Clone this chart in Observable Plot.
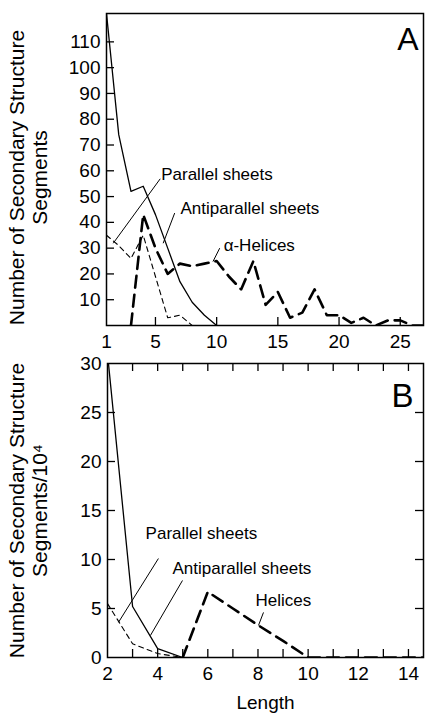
<!DOCTYPE html>
<html><head><meta charset="utf-8">
<script src="https://cdn.jsdelivr.net/npm/d3@7"></script>
<script src="https://cdn.jsdelivr.net/npm/@observablehq/plot@0.6"></script>
<style>body{margin:0;background:#fff;} svg{display:block;overflow:visible;}</style>
</head><body><div id="chart"></div>
<script>
// ---------- Panel A data (counts vs length) ----------
const antiLenA = [1, 2, 3, 4, 5, 6, 7, 8, 9, 10];
const antiA    = [121, 74, 52, 54, 43, 30, 17, 9, 4, 0];
const parLenA  = [1, 2, 3, 4, 5, 6, 7, 8];
const parA     = [35, 31, 26, 35, 19, 3, 4, 0];
const helLenA  = [3, 4, 5, 6, 7, 8, 9, 10, 11, 12, 13, 14, 15, 16, 17, 18, 19, 20, 21, 22, 23, 24, 25, 26, 27];
const helA     = [0, 43, 30, 20, 24, 23, 24, 25, 19, 14, 25, 8, 13, 3, 5, 14, 4, 4, 1, 3, 0, 2, 2, 0, 0];
const xTicksA  = [1, 5, 10, 15, 20, 25];
const yTicksA  = [10, 20, 30, 40, 50, 60, 70, 80, 90, 100, 110];

// ---------- Panel B data (segments / 10^4 vs length) ----------
const antiLenB = [2, 3, 4, 5];
const antiB    = [31, 5.2, 0.9, 0];
const parLenB  = [2, 3, 4, 5];
const parB     = [5.5, 1.4, 0.4, 0];
const helLenB  = [5, 6, 7, 8, 9, 10, 11, 12, 13, 14, 15];
const helB     = [0, 6.7, 5.0, 3.3, 1.7, 0, 0, 0, 0, 0, 0];
const xTicksB  = [2, 3, 4, 5, 6, 7, 8, 9, 10, 11, 12, 13, 14];
const yTicksB  = [0, 5, 10, 15, 20, 25, 30];
const yTicksBInner = [5, 10, 15, 20, 25];

// ---------- Text ----------
const yTitleA = "Number of Secondary Structure\nSegments";
const yTitleB = "Number of Secondary Structure\nSegments/10⁴";
const xTitle = "Length";
// annotation labels: text anchor point and leader line (data units)
const labelsA = [
  {text: "Parallel sheets", x: 5.47, y: 58.4, x1: 5.39, y1: 56.9, x2: 1.55, y2: 31.9},
  {text: "Antiparallel sheets", x: 7.04, y: 45.5, x1: 6.57, y1: 43.6, x2: 5.63, y2: 31.9},
  {text: "α-Helices", x: 10.57, y: 31.1, x1: 10.25, y1: 30.0, x2: 9.7, y2: 24.8}
];
const labelsB = [
  {text: "Parallel sheets", x: 3.52, y: 12.65, x1: 4.03, y1: 10.1, x2: 2.44, y2: 3.6},
  {text: "Antiparallel sheets", x: 4.59, y: 9.1, x1: 4.99, y1: 7.86, x2: 3.71, y2: 2.24},
  {text: "Helices", x: 7.9, y: 5.8, x1: 8.22, y1: 4.6, x2: 8.02, y2: 3.27}
];

const zip = (xs, ys) => xs.map((x, i) => ({x, y: ys[i]}));
const FONT = "'Liberation Sans', Arial, Helvetica, sans-serif";
const TICK = 8;
const TICKFONT = 19, LABELFONT = 17, TITLEFONT = 21;

const solid = {x: "x", y: "y", stroke: "black", strokeWidth: 1.3, clip: true};
const thinDash = {x: "x", y: "y", stroke: "black", strokeWidth: 1.1, strokeDasharray: "5,4", clip: true};
const thickDash = {x: "x", y: "y", stroke: "black", strokeWidth: 2.6, strokeDasharray: "12,7", clip: true};

// panel A geometry
const WA = 429, HA = 350, mlA = 106, mrA = 6, mtA = 13, mbA = 25;
const fwA = WA - mlA - mrA, fhA = HA - mtA - mbA;

const plotA = Plot.plot({
  width: WA, height: HA,
  marginLeft: mlA, marginRight: mrA, marginTop: mtA, marginBottom: mbA,
  style: {fontFamily: FONT, fontSize: TICKFONT + "px", background: "white", color: "black"},
  x: {domain: [1, 26.9]},
  y: {domain: [0, 121]},
  marks: [
    Plot.frame({stroke: "black", strokeWidth: 1.5}),
    Plot.axisY({ticks: yTicksA, tickSize: 0, tickPadding: 6, label: null, fontSize: TICKFONT}),
    Plot.axisX({ticks: xTicksA, tickSize: 0, tickPadding: 9, label: null, fontSize: TICKFONT}),
    Plot.tickY(yTicksA, {y: d => d, insetRight: fwA - TICK, stroke: "black", strokeWidth: 1.3}),
    Plot.tickX(xTicksA.slice(1), {x: d => d, insetTop: fhA - TICK, stroke: "black", strokeWidth: 1.3}),
    Plot.line(zip(antiLenA, antiA), solid),
    Plot.line(zip(parLenA, parA), thinDash),
    Plot.line(zip(helLenA, helA), thickDash),
    Plot.link(labelsA, {x1: "x1", y1: "y1", x2: "x2", y2: "y2", stroke: "black", strokeWidth: 1}),
    Plot.text(labelsA, {x: "x", y: "y", text: "text", textAnchor: "start", fontSize: LABELFONT}),
    Plot.text([yTitleA], {frameAnchor: "left", text: d => d, rotate: -90, textAnchor: "middle", dx: -78, dy: 8, fontSize: TITLEFONT, lineHeight: 1.08}),
    Plot.text(["A"], {frameAnchor: "top-right", text: d => d, dx: -5, dy: 14, lineAnchor: "top", textAnchor: "end", fontSize: 32})
  ]
});

// panel B geometry
const WB = 429, HB = 369, mlB = 107, mrB = 6, mtB = 13, mbB = 62;
const fwB = WB - mlB - mrB, fhB = HB - mtB - mbB;

const plotB = Plot.plot({
  width: WB, height: HB,
  marginLeft: mlB, marginRight: mrB, marginTop: mtB, marginBottom: mbB,
  style: {fontFamily: FONT, fontSize: TICKFONT + "px", background: "white", color: "black"},
  x: {domain: [2, 14.6]},
  y: {domain: [0, 30]},
  marks: [
    Plot.frame({stroke: "black", strokeWidth: 1.5}),
    Plot.axisY({ticks: yTicksB, tickSize: 0, tickPadding: 6, label: null, fontSize: TICKFONT}),
    Plot.axisX({ticks: xTicksB, tickSize: 0, tickPadding: 9, label: null, fontSize: TICKFONT, tickFormat: d => d % 2 === 0 ? String(d) : ""}),
    Plot.tickY(yTicksBInner, {y: d => d, insetRight: fwB - TICK, stroke: "black", strokeWidth: 1.3}),
    Plot.tickY(yTicksBInner, {y: d => d, insetLeft: fwB - TICK, stroke: "black", strokeWidth: 1.3}),
    Plot.tickX(xTicksB.slice(1), {x: d => d, insetTop: fhB - TICK, stroke: "black", strokeWidth: 1.3}),
    Plot.tickX(xTicksB.slice(1), {x: d => d, insetBottom: fhB - TICK, stroke: "black", strokeWidth: 1.3}),
    Plot.line(zip(antiLenB, antiB), solid),
    Plot.line(zip(parLenB, parB), thinDash),
    Plot.line(zip(helLenB, helB), thickDash),
    Plot.link(labelsB, {x1: "x1", y1: "y1", x2: "x2", y2: "y2", stroke: "black", strokeWidth: 1}),
    Plot.text(labelsB, {x: "x", y: "y", text: "text", textAnchor: "start", fontSize: LABELFONT}),
    Plot.text([yTitleB], {frameAnchor: "left", text: d => d, rotate: -90, textAnchor: "middle", dx: -79, fontSize: TITLEFONT, lineHeight: 1.08}),
    Plot.text(["B"], {frameAnchor: "top-right", text: d => d, dx: -10, dy: 20, lineAnchor: "top", textAnchor: "end", fontSize: 33}),
    Plot.text([xTitle], {frameAnchor: "bottom", text: d => d, dy: 51, fontSize: TICKFONT})
  ]
});

const root = document.getElementById("chart");
root.append(plotA, plotB);
</script>
</body></html>
